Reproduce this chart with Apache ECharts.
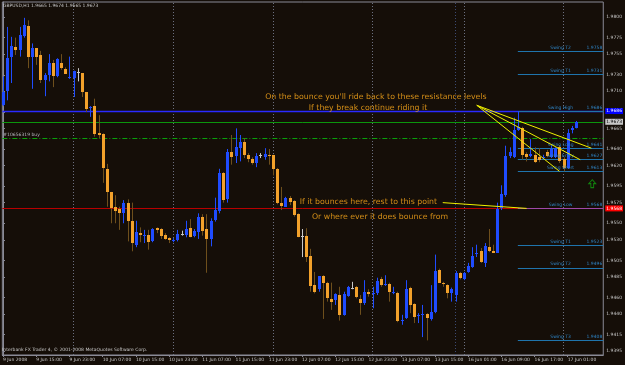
<!DOCTYPE html>
<html><head><meta charset="utf-8">
<script src="https://cdn.jsdelivr.net/npm/echarts@6/dist/echarts.min.js"></script>
<style>html,body{margin:0;padding:0;background:#150e08;}#c{width:625px;height:365px;}</style>
</head><body><div id="c"></div><script>
// ---- data ----
const xTickLabels = ['9 Jun 2008','9 Jun 15:00','9 Jun 23:00','10 Jun 07:00','10 Jun 15:00','10 Jun 23:00','11 Jun 07:00','11 Jun 15:00','11 Jun 23:00','12 Jun 07:00','12 Jun 15:00','12 Jun 23:00','13 Jun 07:00','13 Jun 15:00','16 Jun 01:00','16 Jun 09:00','16 Jun 17:00','17 Jun 01:00'];
const BARS_PER_LABEL = 8;
const yTickLabels = ['1.9395','1.9415','1.9440','1.9460','1.9485','1.9505','1.9530','1.9550','1.9575','1.9595','1.9620','1.9640','1.9665','1.9685','1.9710','1.9730','1.9755','1.9775','1.9800'];

const opens  = [1.9693,1.9710,1.9752,1.9764,1.9760,1.9777,1.9789,1.9752,1.9762,1.9754,1.9724,1.9730,1.9744,1.9728,1.9744,1.9737,1.9726,1.9726,1.9733,1.9732,
1.9709,1.9690,1.9692,1.9659,1.9658,1.9616,1.9588,1.9570,1.9567,1.9562,1.9575,1.9553,1.9524,1.9538,1.9535,1.9536,1.9528,1.9544,1.9543,1.9536,
1.9532,1.9528,1.9530,1.9537,1.9536,1.9544,1.9535,1.9539,1.9558,1.9543,1.9531,1.9554,1.9565,1.9611,1.9579,1.9636,1.9632,1.9641,1.9648,1.9633,
1.9628,1.9623,1.9633,1.9630,1.9633,1.9633,1.9616,1.9575,1.9570,1.9581,1.9577,1.9561,1.9535,1.9535,1.9510,1.9475,1.9470,1.9486,1.9478,1.9458,
1.9457,1.9463,1.9439,1.9462,1.9472,1.9473,1.9458,1.9453,1.9467,1.9464,1.9465,1.9482,1.9475,1.9476,1.9465,1.9465,1.9432,1.9435,1.9472,1.9452,
1.9438,1.9439,1.9440,1.9434,1.9442,1.9493,1.9478,1.9475,1.9465,1.9463,1.9490,1.9482,1.9491,1.9497,1.9513,1.9516,1.9502,1.9521,1.9516,1.9514,
1.9568,1.9584,1.9632,1.9630,1.9663,1.9665,1.9634,1.9632,1.9633,1.9630,1.9629,1.9636,1.9630,1.9630,1.9642,1.9628,1.9617,1.9663,1.9665];
const highs  = [1.9728,1.9788,1.9776,1.9775,1.9788,1.9799,1.9796,1.9768,1.9762,1.9759,1.9732,1.9755,1.9748,1.9750,1.9755,1.9739,1.9752,1.9735,1.9738,1.9732,
1.9709,1.9692,1.9701,1.9681,1.9659,1.9622,1.9588,1.9584,1.9570,1.9578,1.9579,1.9575,1.9553,1.9545,1.9542,1.9542,1.9544,1.9545,1.9544,1.9538,
1.9533,1.9532,1.9542,1.9541,1.9553,1.9555,1.9543,1.9562,1.9561,1.9561,1.9556,1.9581,1.9616,1.9612,1.9640,1.9657,1.9665,1.9657,1.9653,1.9635,
1.9630,1.9635,1.9635,1.9641,1.9640,1.9633,1.9617,1.9594,1.9582,1.9583,1.9578,1.9562,1.9543,1.9544,1.9519,1.9491,1.9486,1.9487,1.9479,1.9478,
1.9465,1.9473,1.9467,1.9474,1.9479,1.9474,1.9463,1.9481,1.9470,1.9473,1.9484,1.9485,1.9487,1.9478,1.9473,1.9467,1.9439,1.9481,1.9473,1.9453,
1.9441,1.9451,1.9441,1.9475,1.9512,1.9495,1.9479,1.9476,1.9472,1.9492,1.9491,1.9491,1.9502,1.9521,1.9524,1.9520,1.9526,1.9543,1.9524,1.9575,
1.9596,1.9644,1.9642,1.9678,1.9686,1.9667,1.9636,1.9652,1.9642,1.9641,1.9633,1.9639,1.9644,1.9642,1.9645,1.9630,1.9664,1.9668,1.9674];
const lows   = [1.9692,1.9699,1.9720,1.9754,1.9752,1.9775,1.9738,1.9713,1.9742,1.9720,1.9704,1.9722,1.9715,1.9727,1.9736,1.9731,1.9725,1.9703,1.9722,1.9703,
1.9685,1.9679,1.9655,1.9653,1.9599,1.9570,1.9550,1.9550,1.9542,1.9550,1.9528,1.9516,1.9521,1.9527,1.9526,1.9518,1.9527,1.9538,1.9531,1.9530,
1.9526,1.9527,1.9528,1.9535,1.9533,1.9533,1.9533,1.9531,1.9535,1.9490,1.9522,1.9552,1.9562,1.9575,1.9575,1.9621,1.9623,1.9625,1.9629,1.9624,
1.9621,1.9618,1.9629,1.9627,1.9621,1.9608,1.9573,1.9566,1.9570,1.9572,1.9558,1.9533,1.9509,1.9503,1.9467,1.9465,1.9467,1.9434,1.9455,1.9445,
1.9451,1.9432,1.9438,1.9461,1.9470,1.9459,1.9439,1.9451,1.9461,1.9447,1.9463,1.9473,1.9474,1.9455,1.9464,1.9430,1.9427,1.9434,1.9441,1.9429,
1.9429,1.9412,1.9408,1.9432,1.9441,1.9478,1.9473,1.9459,1.9455,1.9455,1.9482,1.9481,1.9490,1.9496,1.9509,1.9502,1.9497,1.9515,1.9514,1.9514,
1.9566,1.9582,1.9629,1.9629,1.9662,1.9627,1.9625,1.9630,1.9623,1.9624,1.9627,1.9630,1.9629,1.9629,1.9623,1.9613,1.9616,1.9659,1.9665];
const closes = [1.9709,1.9750,1.9765,1.9760,1.9778,1.9790,1.9752,1.9762,1.9752,1.9724,1.9730,1.9744,1.9728,1.9749,1.9738,1.9731,1.9727,1.9735,1.9733,1.9709,
1.9688,1.9691,1.9658,1.9657,1.9617,1.9588,1.9568,1.9565,1.9562,1.9575,1.9553,1.9526,1.9539,1.9536,1.9536,1.9527,1.9543,1.9542,1.9535,1.9531,
1.9530,1.9530,1.9537,1.9537,1.9543,1.9533,1.9541,1.9558,1.9541,1.9531,1.9553,1.9566,1.9611,1.9578,1.9636,1.9630,1.9642,1.9648,1.9633,1.9628,
1.9623,1.9632,1.9633,1.9634,1.9632,1.9616,1.9575,1.9571,1.9581,1.9576,1.9560,1.9533,1.9535,1.9509,1.9474,1.9467,1.9486,1.9478,1.9459,1.9455,
1.9464,1.9439,1.9464,1.9473,1.9472,1.9461,1.9453,1.9467,1.9464,1.9465,1.9480,1.9475,1.9476,1.9467,1.9467,1.9432,1.9433,1.9470,1.9451,1.9436,
1.9439,1.9440,1.9435,1.9442,1.9492,1.9478,1.9476,1.9465,1.9470,1.9490,1.9484,1.9490,1.9498,1.9510,1.9514,1.9503,1.9522,1.9516,1.9514,1.9567,
1.9585,1.9632,1.9636,1.9663,1.9667,1.9633,1.9630,1.9634,1.9624,1.9627,1.9630,1.9632,1.9640,1.9641,1.9625,1.9617,1.9659,1.9665,1.9673];

const daySeparators = [17, 41, 65, 89, 111, 135];
const markerVertical = 109;
const levelLines = [
  {price: 1.9686, text: '1.9686', color: '#2a2aff', box: '#0000ff', boxText: '#ffffff', width: 1.4},
  {price: 1.9673, text: '1.9673', color: '#0c960c', box: '#c8c8c8', boxText: '#000000', width: 1},
  {price: 1.9568, text: '1.9568', color: '#b80000', box: '#ff0000', boxText: '#ffffff', width: 1}
];
const orderLine = {price: 1.9653, text: '#10656319 buy'};
const swingStartBar = 124;
const swingLevels = [
  {name: 'Swing T2', price: 1.9758},
  {name: 'Swing T1', price: 1.9731},
  {name: 'Swing High', price: 1.9686},
  {name: 'Swing Long', price: 1.9641},
  {name: 'Swing Entry', price: 1.9627},
  {name: 'Swing Short', price: 1.9613},
  {name: 'Swing Low', price: 1.9568},
  {name: 'Swing T1', price: 1.9523},
  {name: 'Swing T2', price: 1.9496},
  {name: 'Swing T3', price: 1.9408}
];
const trendLines = [
  [[114.1, 1.9693], [141.7, 1.9641]],
  [[114.1, 1.9693], [139.0, 1.9627]],
  [[114.1, 1.9693], [134.0, 1.9613]],
  [[105.9, 1.9575], [126.1, 1.9568]]
];
const annotations = [
  {bar: 89.8, price: 1.9703, text: "On the bounce you'll ride back to these resistance levels"},
  {bar: 87.9, price: 1.9690, text: 'If they break continue riding it'},
  {bar: 88.0, price: 1.9576, text: 'If it bounces here, rest to this point'},
  {bar: 90.8, price: 1.9558, text: 'Or where ever it does bounce from'}
];
const arrowMark = [141.9, 1.9598];
const titleText = 'GBPUSD,H1 1.9665 1.9674 1.9665 1.9673';
const footerText = 'Interbank FX Trader 4, \u00a9 2001-2008 MetaQuotes Software Corp.';

// ---- chart ----
const X_MIN = -0.16, X_MAX = 144.55;
const Y_MIN = 1.93903, Y_MAX = 1.98182;
const BULL = '#1f4cff', BEAR = '#f2a12b', BEAR_WICK = '#6e4f1c', DOJI = '#c8c8c8';
const FONT = 'DejaVu Sans';
const SMALL = 4.5;
const xTickIdx = xTickLabels.map((_, k) => k * BARS_PER_LABEL);
const yTickVals = yTickLabels.map(Number);

const candleData = closes.map((c, i) => [i, opens[i], c, lows[i], highs[i]]);

function renderCandle(params, api) {
  const i = api.value(0), o = api.value(1), c = api.value(2), l = api.value(3), h = api.value(4);
  const pO = api.coord([i, o]), pC = api.coord([i, c]), pL = api.coord([i, l]), pH = api.coord([i, h]);
  const x = Math.round(pO[0]);
  let col, wick;
  if (c > o) { col = BULL; wick = BULL; } else if (c < o) { col = BEAR; wick = BEAR_WICK; } else { col = DOJI; wick = DOJI; }
  const top = Math.round(Math.min(pO[1], pC[1])), bot = Math.round(Math.max(pO[1], pC[1]));
  return {type: 'group', children: [
    {type: 'line', shape: {x1: x + 0.5, y1: pH[1], x2: x + 0.5, y2: pL[1]}, style: {stroke: wick, lineWidth: 1}},
    {type: 'rect', shape: {x: x - 1, y: top, width: 3, height: Math.max(bot - top, 1)}, style: {fill: col}}
  ]};
}

const markLineData = [];
daySeparators.forEach(b => markLineData.push([{coord: [b, Y_MIN], lineStyle: {color: '#6c7080', type: [1, 2], width: 1}, label: {show: false}}, {coord: [b, Y_MAX]}]));
markLineData.push([{coord: [markerVertical, Y_MIN], lineStyle: {color: '#3c4a72', type: [1, 2], width: 1}, label: {show: false}}, {coord: [markerVertical, Y_MAX]}]);
markLineData.push([{coord: [X_MIN, orderLine.price], lineStyle: {color: '#0aa00a', type: [5, 2, 1, 2], width: 1},
  label: {show: true, position: 'insideStartTop', formatter: orderLine.text, color: '#b8b8c0', fontSize: SMALL, fontFamily: FONT, distance: 1}}, {coord: [X_MAX, orderLine.price]}]);
levelLines.forEach(L => markLineData.push([{coord: [X_MIN, L.price], lineStyle: {color: L.color, type: 'solid', width: L.width},
  label: {show: true, position: 'end', formatter: L.text, backgroundColor: L.box, color: L.boxText, fontSize: SMALL, fontFamily: FONT, padding: [1, 1, 0, 1], distance: 2}}, {coord: [X_MAX, L.price]}]));

const swingData = [];
swingLevels.forEach(s => {
  const isLow = s.name === 'Swing Low';
  const ls = {color: isLow ? '#a048a8' : '#1f74ac', type: 'solid', width: 1};
  swingData.push([{coord: [swingStartBar, s.price], lineStyle: ls,
    label: {show: true, position: 'insideMiddleTop', formatter: s.name, color: '#2f86c8', fontSize: SMALL, fontFamily: FONT, distance: 1}},
    {coord: [X_MAX, s.price]}]);
  swingData.push([{coord: [swingStartBar, s.price], lineStyle: ls,
    label: {show: true, position: 'insideEndTop', formatter: s.price.toFixed(4), color: '#2f86c8', fontSize: SMALL, fontFamily: FONT, distance: 1}},
    {coord: [X_MAX, s.price]}]);
});

const chart = echarts.init(document.getElementById('c'), null, {renderer: 'canvas'});
chart.setOption({
  animation: false,
  backgroundColor: '#150e08',
  textStyle: {fontFamily: FONT},
  title: [
    {text: titleText, left: 3, top: 3, textStyle: {color: '#c8c8c8', fontSize: SMALL, fontWeight: 'normal', fontFamily: FONT}, padding: 0},
    {text: footerText, left: 2, top: 347, textStyle: {color: '#c8c8c8', fontSize: SMALL, fontWeight: 'normal', fontFamily: FONT}, padding: 0}
  ],
  grid: {left: 1, right: 21, top: 2, bottom: 10, show: true, borderColor: '#8a8a96', borderWidth: 1, backgroundColor: 'transparent'},
  xAxis: {type: 'value', min: X_MIN, max: X_MAX,
    axisLine: {show: true, lineStyle: {color: '#8a8a96'}},
    axisTick: {show: true, customValues: xTickIdx, length: 2, lineStyle: {color: '#8a8a96'}},
    axisLabel: {customValues: xTickIdx, formatter: v => xTickLabels[Math.round(v / BARS_PER_LABEL)], color: '#c8c8c8', fontSize: SMALL, fontFamily: FONT, align: 'left', margin: 2},
    splitLine: {show: false}},
  yAxis: {type: 'value', position: 'right', min: Y_MIN, max: Y_MAX,
    axisLine: {show: true, lineStyle: {color: '#8a8a96'}},
    axisTick: {show: true, customValues: yTickVals, length: 2, lineStyle: {color: '#8a8a96'}},
    axisLabel: {customValues: yTickVals, formatter: v => yTickLabels[yTickVals.indexOf(v)] || '', color: '#c8c8c8', fontSize: SMALL, fontFamily: FONT, margin: 3},
    splitLine: {show: false}},
  series: [
    {type: 'line', data: [], silent: true, z: 1, markLine: {silent: true, symbol: ['none', 'none'], animation: false, data: markLineData}},
    {type: 'line', data: [], silent: true, z: 3, markLine: {silent: true, symbol: ['none', 'none'], animation: false, data: swingData}},
    {type: 'custom', renderItem: renderCandle, data: candleData, encode: {x: 0, y: [1, 2, 3, 4]}, z: 5, silent: true},
    {type: 'lines', coordinateSystem: 'cartesian2d', data: trendLines.map(c => ({coords: c})), lineStyle: {color: '#f0f000', width: 1, opacity: 1}, silent: true, z: 6},
    {type: 'scatter', data: annotations.map(a => ({value: [a.bar, a.price], label: {formatter: a.text}})), symbolSize: 1, itemStyle: {color: 'rgba(0,0,0,0)'},
      label: {show: true, position: 'inside', color: '#ffab1c', fontSize: 7.8, fontFamily: FONT}, silent: true, z: 7},
    {type: 'scatter', data: [arrowMark], symbol: 'path://M5,0 L10,5 L7,5 L7,10 L3,10 L3,5 L0,5 Z', symbolSize: [7, 8],
      itemStyle: {color: 'rgba(0,0,0,0)', borderColor: '#10a010', borderWidth: 1}, silent: true, z: 7}
  ]
});
</script></body></html>
